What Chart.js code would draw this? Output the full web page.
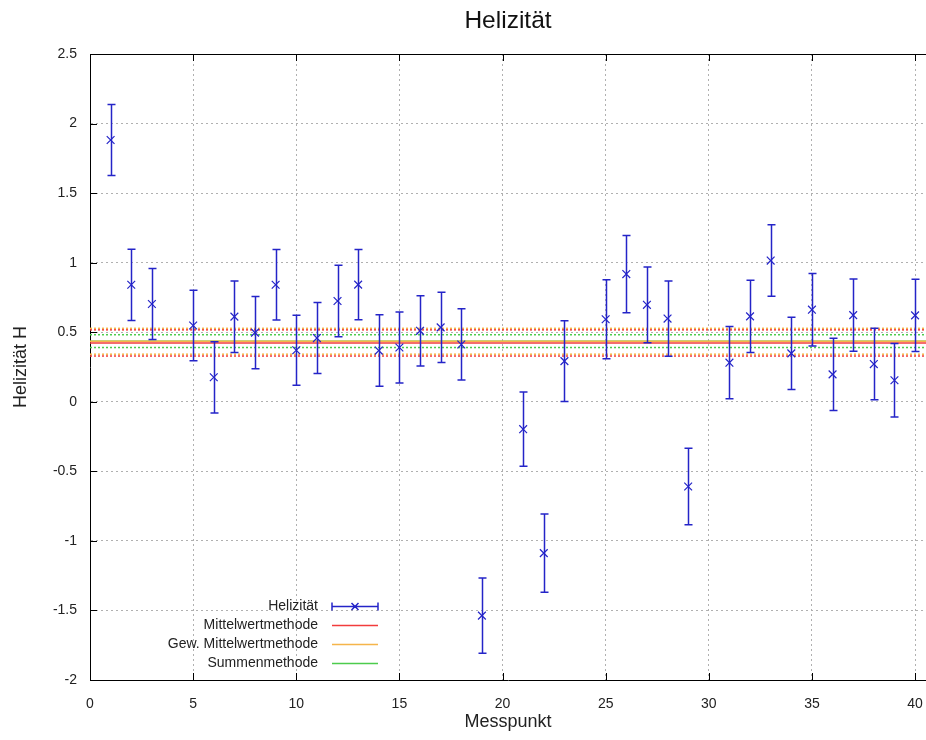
<!DOCTYPE html>
<html>
<head>
<meta charset="utf-8">
<title>Helizität</title>
<script src="https://cdn.jsdelivr.net/npm/chart.js@4/dist/chart.umd.min.js"></script>
<style>
  body { margin: 0; background: #fff; }
  #wrap { width: 926px; height: 740px; }
</style>
</head>
<body>
<div id="wrap"><canvas id="heliChart" width="926" height="740"></canvas></div>
<script>
// Data
const X_TICKS = [0, 5, 10, 15, 20, 25, 30, 35, 40];
const Y_TICKS = [-2, -1.5, -1, -0.5, 0, 0.5, 1, 1.5, 2, 2.5];

const MESSPUNKT = [1, 2, 3, 5, 6, 7, 8, 9, 10, 11, 12, 13, 14, 15, 16, 17, 18, 19,
    21, 22, 23, 25, 26, 27, 28, 29, 31, 32, 33, 34, 35, 36, 37, 38, 39, 40];
const HELIZITAET = [1.882, 0.841, 0.703, 0.548, 0.176, 0.612, 0.497, 0.841, 0.370, 0.458,
    0.724, 0.842, 0.368, 0.390, 0.510, 0.535, 0.412, -1.537,
    -0.197, -1.088, 0.292, 0.593, 0.918, 0.697, 0.598, -0.609,
    0.281, 0.614, 1.015, 0.348, 0.662, 0.197, 0.623, 0.271, 0.155, 0.621];
const FEHLER = [0.255, 0.256, 0.255, 0.253, 0.256, 0.257, 0.260, 0.253, 0.252, 0.255,
    0.257, 0.253, 0.257, 0.255, 0.253, 0.253, 0.256, 0.270,
    0.267, 0.282, 0.290, 0.284, 0.278, 0.272, 0.270, 0.275,
    0.260, 0.260, 0.257, 0.260, 0.261, 0.260, 0.260, 0.257, 0.264, 0.260];

// mean values and their uncertainty bands
const METHODEN = ["Mittelwertmethode", "Gew. Mittelwertmethode", "Summenmethode"];
const METHODEN_WERT = [0.423, 0.435, 0.436];
const METHODEN_FEHLER = [0.094, 0.093, 0.046];

const X_MIN = 0, X_MAX = 40.53, Y_MIN = -2, Y_MAX = 2.5;

const BLUE = "#2424c8";
const METHOD_COLORS = ["#f23c3c", "#f5b54a", "#4ccc4c"];
const FONT = "'Liberation Sans', Arial, sans-serif";

Chart.defaults.font.family = FONT;
Chart.defaults.color = "#222";

const hline = (value, color, dash, width, label) => ({
    type: "line",
    label: label,
    data: [{ x: X_MIN, y: value }, { x: X_MAX, y: value }],
    borderColor: color,
    borderWidth: width,
    borderDash: dash,
    pointRadius: 0,
    showLine: true,
    order: 5,
});

const datasets = [{
    type: "scatter",
    label: "Helizität",
    data: MESSPUNKT.map((m, i) => ({ x: m, y: HELIZITAET[i] })),
    pointStyle: "crossRot",
    pointRadius: 5.5,
    borderColor: BLUE,
    backgroundColor: BLUE,
    borderWidth: 1.2,
    order: 1,
}];
// dotted bands first, then the solid means on top
METHODEN.forEach((name, k) => {
    datasets.push(hline(METHODEN_WERT[k] + METHODEN_FEHLER[k], METHOD_COLORS[k], [2, 2], 1.5, ""));
    datasets.push(hline(METHODEN_WERT[k] - METHODEN_FEHLER[k], METHOD_COLORS[k], [2, 2], 1.5, ""));
});
[1, 0, 2].forEach((k) => {
    datasets.push(hline(METHODEN_WERT[k], METHOD_COLORS[k], [], 1.5, METHODEN[k]));
});

// error bars drawn with the chart's own scales
const errorBars = {
    id: "errorBars",
    afterDatasetsDraw(chart) {
        const { ctx, chartArea, scales: { x, y } } = chart;
        ctx.save();
        ctx.beginPath();
        ctx.rect(chartArea.left, chartArea.top, chartArea.right - chartArea.left, chartArea.bottom - chartArea.top);
        ctx.clip();
        ctx.strokeStyle = BLUE;
        ctx.lineWidth = 1.5;
        MESSPUNKT.forEach((m, i) => {
            const px = Math.round(x.getPixelForValue(m)) + 0.5;
            const top = y.getPixelForValue(HELIZITAET[i] + FEHLER[i]);
            const bot = y.getPixelForValue(HELIZITAET[i] - FEHLER[i]);
            ctx.beginPath();
            ctx.moveTo(px, top); ctx.lineTo(px, bot);
            ctx.moveTo(px - 4, top); ctx.lineTo(px + 4, top);
            ctx.moveTo(px - 4, bot); ctx.lineTo(px + 4, bot);
            ctx.stroke();
        });
        ctx.restore();
    },
};

// gnuplot-style frame: top border, inner tick marks, legend in the lower left
const frameAndKey = {
    id: "frameAndKey",
    afterDraw(chart) {
        const { ctx, chartArea: a, scales: { x, y } } = chart;
        ctx.save();
        ctx.strokeStyle = "#000";
        ctx.lineWidth = 1;
        ctx.beginPath();
        ctx.moveTo(a.left, a.top + 0.5); ctx.lineTo(a.right, a.top + 0.5);
        X_TICKS.forEach((v) => {
            const px = Math.round(x.getPixelForValue(v)) + 0.5;
            ctx.moveTo(px, a.bottom); ctx.lineTo(px, a.bottom - 7);
            ctx.moveTo(px, a.top); ctx.lineTo(px, a.top + 7);
        });
        Y_TICKS.forEach((v) => {
            const py = Math.round(y.getPixelForValue(v)) + 0.5;
            ctx.moveTo(a.left, py); ctx.lineTo(a.left + 7, py);
        });
        ctx.stroke();

        // key
        const textRight = 318, lineL = 332, lineR = 378, row0 = 606, rowH = 19;
        ctx.font = "14px " + FONT;
        ctx.fillStyle = "#222";
        ctx.textAlign = "right";
        ctx.textBaseline = "middle";
        const entries = ["Helizität"].concat(METHODEN);
        entries.forEach((label, i) => {
            const ry = row0 + i * rowH;
            ctx.fillText(label, textRight, ry);
            ctx.beginPath();
            ctx.lineWidth = 1.5;
            if (i === 0) {
                ctx.strokeStyle = BLUE;
                ctx.moveTo(lineL, ry + 0.5); ctx.lineTo(lineR, ry + 0.5);
                ctx.moveTo(lineL, ry - 3.5); ctx.lineTo(lineL, ry + 4.5);
                ctx.moveTo(lineR, ry - 3.5); ctx.lineTo(lineR, ry + 4.5);
                const cx = (lineL + lineR) / 2;
                ctx.moveTo(cx - 3.5, ry - 3); ctx.lineTo(cx + 3.5, ry + 4);
                ctx.moveTo(cx + 3.5, ry - 3); ctx.lineTo(cx - 3.5, ry + 4);
            } else {
                ctx.strokeStyle = METHOD_COLORS[i - 1];
                ctx.moveTo(lineL, ry + 0.5); ctx.lineTo(lineR, ry + 0.5);
            }
            ctx.stroke();
        });
        ctx.restore();
    },
};

const ctx = document.getElementById("heliChart").getContext("2d");
new Chart(ctx, {
    type: "scatter",
    data: { datasets: datasets },
    options: {
        responsive: false,
        animation: false,
        layout: { padding: 0, autoPadding: false },
        plugins: {
            legend: { display: false },
            tooltip: { enabled: false },
            title: {
                display: true,
                text: "Helizität",
                fullSize: false,
                color: "#111",
                font: { size: 24.5, weight: "normal" },
                padding: { top: 7, bottom: 17.6 },
            },
        },
        scales: {
            x: {
                type: "linear",
                min: X_MIN,
                max: X_MAX,
                afterBuildTicks: (scale) => { scale.ticks = X_TICKS.map((v) => ({ value: v })); },
                afterFit: (scale) => {
                    scale.height = 60;
                    scale.paddingLeft = 0;
                    scale.paddingRight = 0;
                },
                ticks: {
                    font: { size: 14 },
                    padding: 16,
                    maxRotation: 0,
                    callback: (v) => String(v),
                },
                grid: { color: "#b0b0b0", lineWidth: 1, drawTicks: false },
                border: { display: true, color: "#000", width: 1, dash: [2, 3] },
                title: {
                    display: true,
                    text: "Messpunkt",
                    font: { size: 18 },
                    padding: { top: 0, bottom: 7 },
                },
            },
            y: {
                type: "linear",
                min: Y_MIN,
                max: Y_MAX,
                afterBuildTicks: (scale) => { scale.ticks = Y_TICKS.map((v) => ({ value: v })); },
                afterFit: (scale) => {
                    scale.width = 90;
                    scale.paddingTop = 0;
                    scale.paddingBottom = 0;
                },
                ticks: {
                    font: { size: 14 },
                    padding: 13,
                    callback: (v) => String(v),
                },
                grid: { color: "#b0b0b0", lineWidth: 1, drawTicks: false },
                border: { display: true, color: "#000", width: 1, dash: [2, 3] },
                title: {
                    display: true,
                    text: "Helizität H",
                    font: { size: 18 },
                    padding: { top: 10, bottom: 0 },
                },
            },
        },
    },
    plugins: [errorBars, frameAndKey],
});
</script>
</body>
</html>
